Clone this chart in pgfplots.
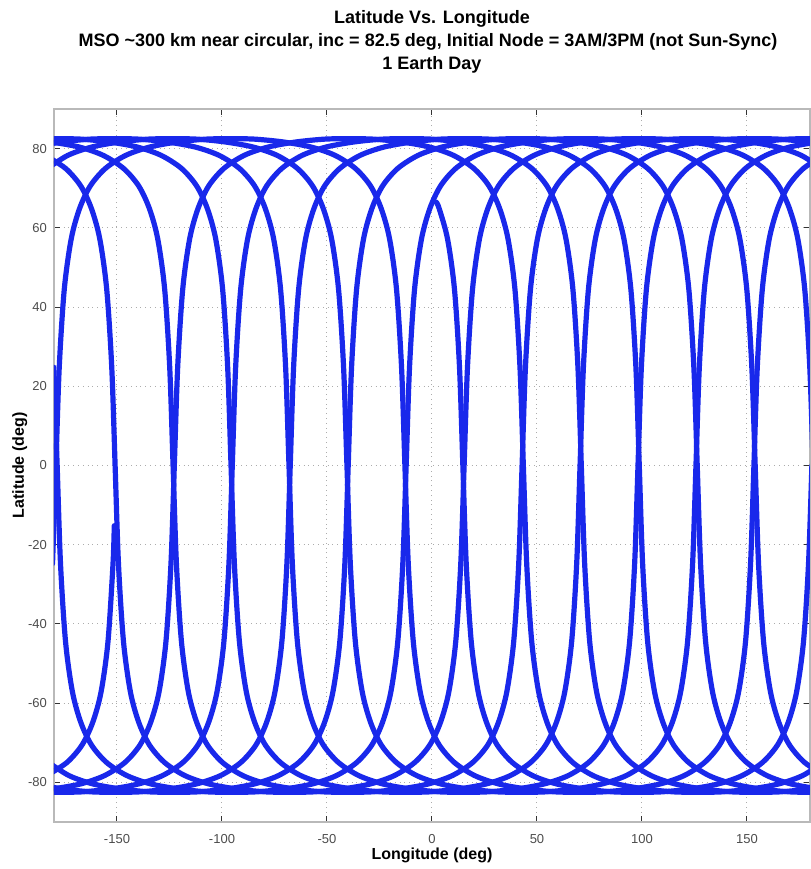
\documentclass[border=0pt]{standalone}
\usepackage{fontspec}
\setmainfont{Liberation Sans}
\usepackage{pgfplots}
\pgfplotsset{compat=1.18}
\usetikzlibrary{calc}
\definecolor{trkblue}{RGB}{25,40,235}
\pgfplotsset{trk/.style={color=trkblue, line width=2.6pt, line cap=round, line join=round, mark=none, smooth, tension=0.5}}
\begin{document}
\begin{tikzpicture}
\begin{axis}[
  scale only axis, width=378pt, height=356.5pt,
  xmin=-180, xmax=180, ymin=-90, ymax=90,
  xtick={-150,-100,-50,0,50,100,150},
  ytick={-80,-60,-40,-20,0,20,40,60,80},
  grid=major, grid style={dotted, gray!65, line width=0.5pt},
  tick align=inside, major tick length=3pt,
  tick style={gray!40!black, line width=0.5pt},
  axis line style={gray!55, line width=0.7pt},
  ticklabel style={font=\fontsize{6.5}{7}\selectfont, text=black!70},
  /pgf/number format/assume math mode=true,
  xticklabel style={yshift=-2.5pt},
  clip mode=individual,
]
% descending arc, orbit 0 (start)
\addplot[trk] coordinates {(2,66.5) (3.4,64.9) (7.4,57.2) (10.7,44.5) (13.1,24.8) (14.7,0) (16.3,-24.8) (18.7,-44.5) (22,-57.2) (26,-64.9) (31.1,-70.6) (38.3,-75) (48,-78.3) (59.4,-80.4) (73,-81.7) (86.6,-82.4) (97.8,-82.5)};
% orbit 1
\addplot[trk] coordinates {(-180.7,-24.8) (-179.1,0) (-177.5,24.8) (-175.1,44.5) (-171.8,57.2) (-167.8,64.9) (-162.7,70.6) (-155.5,75) (-145.8,78.3) (-134.4,80.4) (-120.8,81.7) (-107.2,82.4) (-96,82.5)};
\addplot[trk] coordinates {(97.8,-82.5) (109,-82.4) (122.6,-81.7) (136.2,-80.4) (147.6,-78.3) (157.3,-75) (164.5,-70.6) (169.6,-64.9) (173.6,-57.2) (176.9,-44.5) (179.3,-24.8) (180.9,0)};
\addplot[trk] coordinates {(-96,82.5) (-84.8,82.4) (-71.2,81.7) (-57.6,80.4) (-46.2,78.3) (-36.5,75) (-29.3,70.6) (-24.2,64.9) (-20.2,57.2) (-16.9,44.5) (-14.5,24.8) (-12.9,0) (-11.3,-24.8) (-8.9,-44.5) (-5.6,-57.2) (-1.6,-64.9) (3.5,-70.6) (10.7,-75) (20.4,-78.3) (31.8,-80.4) (45.4,-81.7) (59,-82.4) (70.2,-82.5)};
% orbit 2
\addplot[trk] coordinates {(70.2,-82.5) (81.4,-82.4) (95,-81.7) (108.6,-80.4) (120,-78.3) (129.7,-75) (136.9,-70.6) (142,-64.9) (146,-57.2) (149.3,-44.5) (151.7,-24.8) (153.3,0) (154.9,24.8) (157.3,44.5) (160.6,57.2) (164.6,64.9) (169.7,70.6) (176.9,75) (186.6,78.3)};
\addplot[trk] coordinates {(-183.1,75) (-173.4,78.3) (-162,80.4) (-148.4,81.7) (-134.8,82.4) (-123.6,82.5)};
\addplot[trk] coordinates {(-123.6,82.5) (-112.4,82.4) (-98.8,81.7) (-85.2,80.4) (-73.8,78.3) (-64.1,75) (-56.9,70.6) (-51.8,64.9) (-47.8,57.2) (-44.5,44.5) (-42.1,24.8) (-40.5,0) (-38.9,-24.8) (-36.5,-44.5) (-33.2,-57.2) (-29.2,-64.9) (-24.1,-70.6) (-16.9,-75) (-7.2,-78.3) (4.2,-80.4) (17.8,-81.7) (31.4,-82.4) (42.6,-82.5)};
% orbit 3
\addplot[trk] coordinates {(42.6,-82.5) (53.8,-82.4) (67.4,-81.7) (81,-80.4) (92.4,-78.3) (102.1,-75) (109.3,-70.6) (114.4,-64.9) (118.4,-57.2) (121.7,-44.5) (124.1,-24.8) (125.7,0) (127.3,24.8) (129.7,44.5) (133,57.2) (137,64.9) (142.1,70.6) (149.3,75) (159,78.3) (170.4,80.4) (184,81.7)};
\addplot[trk] coordinates {(-189.6,80.4) (-176,81.7) (-162.4,82.4) (-151.2,82.5)};
\addplot[trk] coordinates {(-151.2,82.5) (-140,82.4) (-126.4,81.7) (-112.8,80.4) (-101.4,78.3) (-91.7,75) (-84.5,70.6) (-79.4,64.9) (-75.4,57.2) (-72.1,44.5) (-69.7,24.8) (-68.1,0) (-66.5,-24.8) (-64.1,-44.5) (-60.8,-57.2) (-56.8,-64.9) (-51.7,-70.6) (-44.5,-75) (-34.8,-78.3) (-23.4,-80.4) (-9.8,-81.7) (3.8,-82.4) (15,-82.5)};
% orbit 4
\addplot[trk] coordinates {(15,-82.5) (26.2,-82.4) (39.8,-81.7) (53.4,-80.4) (64.8,-78.3) (74.5,-75) (81.7,-70.6) (86.8,-64.9) (90.8,-57.2) (94.1,-44.5) (96.5,-24.8) (98.1,0) (99.7,24.8) (102.1,44.5) (105.4,57.2) (109.4,64.9) (114.5,70.6) (121.7,75) (131.4,78.3) (142.8,80.4) (156.4,81.7) (170,82.4) (181.2,82.5)};
\addplot[trk] coordinates {(-190,82.4) (-178.8,82.5)};
\addplot[trk] coordinates {(-178.8,82.5) (-167.6,82.4) (-154,81.7) (-140.4,80.4) (-129,78.3) (-119.3,75) (-112.1,70.6) (-107,64.9) (-103,57.2) (-99.7,44.5) (-97.3,24.8) (-95.7,0) (-94.1,-24.8) (-91.7,-44.5) (-88.4,-57.2) (-84.4,-64.9) (-79.3,-70.6) (-72.1,-75) (-62.4,-78.3) (-51,-80.4) (-37.4,-81.7) (-23.8,-82.4) (-12.6,-82.5)};
% orbit 5
\addplot[trk] coordinates {(-12.6,-82.5) (-1.4,-82.4) (12.2,-81.7) (25.8,-80.4) (37.2,-78.3) (46.9,-75) (54.1,-70.6) (59.2,-64.9) (63.2,-57.2) (66.5,-44.5) (68.9,-24.8) (70.5,0) (72.1,24.8) (74.5,44.5) (77.8,57.2) (81.8,64.9) (86.9,70.6) (94.1,75) (103.8,78.3) (115.2,80.4) (128.8,81.7) (142.4,82.4) (153.6,82.5)};
\addplot[trk] coordinates {(153.6,82.5) (164.8,82.4) (178.4,81.7) (192,80.4)};
\addplot[trk] coordinates {(-181.6,81.7) (-168,80.4) (-156.6,78.3) (-146.9,75) (-139.7,70.6) (-134.6,64.9) (-130.6,57.2) (-127.3,44.5) (-124.9,24.8) (-123.3,0) (-121.7,-24.8) (-119.3,-44.5) (-116,-57.2) (-112,-64.9) (-106.9,-70.6) (-99.7,-75) (-90,-78.3) (-78.6,-80.4) (-65,-81.7) (-51.4,-82.4) (-40.2,-82.5)};
% orbit 6
\addplot[trk] coordinates {(-40.2,-82.5) (-29,-82.4) (-15.4,-81.7) (-1.8,-80.4) (9.6,-78.3) (19.3,-75) (26.5,-70.6) (31.6,-64.9) (35.6,-57.2) (38.9,-44.5) (41.3,-24.8) (42.9,0) (44.5,24.8) (46.9,44.5) (50.2,57.2) (54.2,64.9) (59.3,70.6) (66.5,75) (76.2,78.3) (87.6,80.4) (101.2,81.7) (114.8,82.4) (126,82.5)};
\addplot[trk] coordinates {(126,82.5) (137.2,82.4) (150.8,81.7) (164.4,80.4) (175.8,78.3) (185.5,75)};
\addplot[trk] coordinates {(-184.2,78.3) (-174.5,75) (-167.3,70.6) (-162.2,64.9) (-158.2,57.2) (-154.9,44.5) (-152.5,24.8) (-150.9,0) (-149.3,-24.8) (-146.9,-44.5) (-143.6,-57.2) (-139.6,-64.9) (-134.5,-70.6) (-127.3,-75) (-117.6,-78.3) (-106.2,-80.4) (-92.6,-81.7) (-79,-82.4) (-67.8,-82.5)};
% orbit 7
\addplot[trk] coordinates {(-67.8,-82.5) (-56.6,-82.4) (-43,-81.7) (-29.4,-80.4) (-18,-78.3) (-8.3,-75) (-1.1,-70.6) (4,-64.9) (8,-57.2) (11.3,-44.5) (13.7,-24.8) (15.3,0) (16.9,24.8) (19.3,44.5) (22.6,57.2) (26.6,64.9) (31.7,70.6) (38.9,75) (48.6,78.3) (60,80.4) (73.6,81.7) (87.2,82.4) (98.4,82.5)};
\addplot[trk] coordinates {(98.4,82.5) (109.6,82.4) (123.2,81.7) (136.8,80.4) (148.2,78.3) (157.9,75) (165.1,70.6) (170.2,64.9) (174.2,57.2) (177.5,44.5) (179.9,24.8) (181.5,0)};
\addplot[trk] coordinates {(-180.1,24.8) (-178.5,0) (-176.9,-24.8) (-174.5,-44.5) (-171.2,-57.2) (-167.2,-64.9) (-162.1,-70.6) (-154.9,-75) (-145.2,-78.3) (-133.8,-80.4) (-120.2,-81.7) (-106.6,-82.4) (-95.4,-82.5)};
% orbit 8
\addplot[trk] coordinates {(-95.4,-82.5) (-84.2,-82.4) (-70.6,-81.7) (-57,-80.4) (-45.6,-78.3) (-35.9,-75) (-28.7,-70.6) (-23.6,-64.9) (-19.6,-57.2) (-16.3,-44.5) (-13.9,-24.8) (-12.3,0) (-10.7,24.8) (-8.3,44.5) (-5,57.2) (-1,64.9) (4.1,70.6) (11.3,75) (21,78.3) (32.4,80.4) (46,81.7) (59.6,82.4) (70.8,82.5)};
\addplot[trk] coordinates {(70.8,82.5) (82,82.4) (95.6,81.7) (109.2,80.4) (120.6,78.3) (130.3,75) (137.5,70.6) (142.6,64.9) (146.6,57.2) (149.9,44.5) (152.3,24.8) (153.9,0) (155.5,-24.8) (157.9,-44.5) (161.2,-57.2) (165.2,-64.9) (170.3,-70.6) (177.5,-75) (187.2,-78.3)};
\addplot[trk] coordinates {(-182.5,-75) (-172.8,-78.3) (-161.4,-80.4) (-147.8,-81.7) (-134.2,-82.4) (-123,-82.5)};
% orbit 9
\addplot[trk] coordinates {(-123,-82.5) (-111.8,-82.4) (-98.2,-81.7) (-84.6,-80.4) (-73.2,-78.3) (-63.5,-75) (-56.3,-70.6) (-51.2,-64.9) (-47.2,-57.2) (-43.9,-44.5) (-41.5,-24.8) (-39.9,0) (-38.3,24.8) (-35.9,44.5) (-32.6,57.2) (-28.6,64.9) (-23.5,70.6) (-16.3,75) (-6.6,78.3) (4.8,80.4) (18.4,81.7) (32,82.4) (43.2,82.5)};
\addplot[trk] coordinates {(43.2,82.5) (54.4,82.4) (68,81.7) (81.6,80.4) (93,78.3) (102.7,75) (109.9,70.6) (115,64.9) (119,57.2) (122.3,44.5) (124.7,24.8) (126.3,0) (127.9,-24.8) (130.3,-44.5) (133.6,-57.2) (137.6,-64.9) (142.7,-70.6) (149.9,-75) (159.6,-78.3) (171,-80.4) (184.6,-81.7)};
\addplot[trk] coordinates {(-189,-80.4) (-175.4,-81.7) (-161.8,-82.4) (-150.6,-82.5)};
% orbit 10
\addplot[trk] coordinates {(-150.6,-82.5) (-139.4,-82.4) (-125.8,-81.7) (-112.2,-80.4) (-100.8,-78.3) (-91.1,-75) (-83.9,-70.6) (-78.8,-64.9) (-74.8,-57.2) (-71.5,-44.5) (-69.1,-24.8) (-67.5,0) (-65.9,24.8) (-63.5,44.5) (-60.2,57.2) (-56.2,64.9) (-51.1,70.6) (-43.9,75) (-34.2,78.3) (-22.8,80.4) (-9.2,81.7) (4.4,82.4) (15.6,82.5)};
\addplot[trk] coordinates {(15.6,82.5) (26.8,82.4) (40.4,81.7) (54,80.4) (65.4,78.3) (75.1,75) (82.3,70.6) (87.4,64.9) (91.4,57.2) (94.7,44.5) (97.1,24.8) (98.7,0) (100.3,-24.8) (102.7,-44.5) (106,-57.2) (110,-64.9) (115.1,-70.6) (122.3,-75) (132,-78.3) (143.4,-80.4) (157,-81.7) (170.6,-82.4) (181.8,-82.5)};
\addplot[trk] coordinates {(-189.4,-82.4) (-178.2,-82.5)};
% orbit 11
\addplot[trk] coordinates {(-178.2,-82.5) (-167,-82.4) (-153.4,-81.7) (-139.8,-80.4) (-128.4,-78.3) (-118.7,-75) (-111.5,-70.6) (-106.4,-64.9) (-102.4,-57.2) (-99.1,-44.5) (-96.7,-24.8) (-95.1,0) (-93.5,24.8) (-91.1,44.5) (-87.8,57.2) (-83.8,64.9) (-78.7,70.6) (-71.5,75) (-61.8,78.3) (-50.4,80.4) (-36.8,81.7) (-23.2,82.4) (-12,82.5)};
\addplot[trk] coordinates {(-12,82.5) (-0.8,82.4) (12.8,81.7) (26.4,80.4) (37.8,78.3) (47.5,75) (54.7,70.6) (59.8,64.9) (63.8,57.2) (67.1,44.5) (69.5,24.8) (71.1,0) (72.7,-24.8) (75.1,-44.5) (78.4,-57.2) (82.4,-64.9) (87.5,-70.6) (94.7,-75) (104.4,-78.3) (115.8,-80.4) (129.4,-81.7) (143,-82.4) (154.2,-82.5)};
% orbit 12
\addplot[trk] coordinates {(154.2,-82.5) (165.4,-82.4) (179,-81.7) (192.6,-80.4)};
\addplot[trk] coordinates {(-181,-81.7) (-167.4,-80.4) (-156,-78.3) (-146.3,-75) (-139.1,-70.6) (-134,-64.9) (-130,-57.2) (-126.7,-44.5) (-124.3,-24.8) (-122.7,0) (-121.1,24.8) (-118.7,44.5) (-115.4,57.2) (-111.4,64.9) (-106.3,70.6) (-99.1,75) (-89.4,78.3) (-78,80.4) (-64.4,81.7) (-50.8,82.4) (-39.6,82.5)};
\addplot[trk] coordinates {(-39.6,82.5) (-28.4,82.4) (-14.8,81.7) (-1.2,80.4) (10.2,78.3) (19.9,75) (27.1,70.6) (32.2,64.9) (36.2,57.2) (39.5,44.5) (41.9,24.8) (43.5,0) (45.1,-24.8) (47.5,-44.5) (50.8,-57.2) (54.8,-64.9) (59.9,-70.6) (67.1,-75) (76.8,-78.3) (88.2,-80.4) (101.8,-81.7) (115.4,-82.4) (126.6,-82.5)};
% last ascending piece (end)
\addplot[trk] coordinates {(126.6,-82.5) (137.8,-82.4) (151.4,-81.7) (165,-80.4) (176.4,-78.3) (186.1,-75)};
\addplot[trk] coordinates {(-183.6,-78.3) (-173.9,-75) (-166.7,-70.6) (-161.6,-64.9) (-157.6,-57.2) (-154.3,-44.5) (-151.9,-24.8) (-151.3,-15.2)};
\coordinate (SW) at (rel axis cs:0,0);
\coordinate (NE) at (rel axis cs:1,1);
\coordinate (T) at (rel axis cs:0.5,1);
\coordinate (B) at (rel axis cs:0.5,0);
\coordinate (W) at (rel axis cs:0,0.5);
\end{axis}
\node[font=\bfseries\fontsize{9}{11}\selectfont, anchor=base] at ($(T)+(0,42.5pt)$) {Latitude Vs. Longitude};
\node[font=\bfseries\fontsize{9}{11}\selectfont, anchor=base] at ($(T)+(-2pt,31pt)$) {MSO \textasciitilde300 km near circular, inc = 82.5 deg, Initial Node = 3AM/3PM (not Sun-Sync)};
\node[font=\bfseries\fontsize{9}{11}\selectfont, anchor=base] at ($(T)+(0,19.5pt)$) {1 Earth Day};
\node[font=\bfseries\fontsize{8}{9}\selectfont, anchor=base] at ($(B)+(0,-18.5pt)$) {Longitude (deg)};
\node[font=\bfseries\fontsize{8}{9}\selectfont, anchor=base, rotate=90] at ($(W)+(-15pt,0)$) {Latitude (deg)};
\pgfresetboundingbox
\path ($(SW)+(-27pt,-23.5pt)$) rectangle ($(NE)+(0.3pt,54.5pt)$);
\end{tikzpicture}
\end{document}
